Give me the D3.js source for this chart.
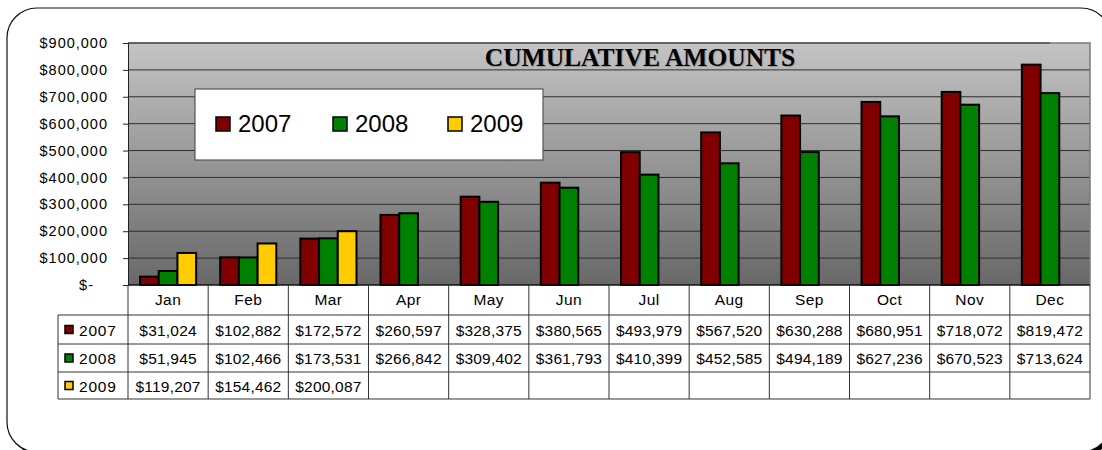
<!DOCTYPE html>
<html>
<head>
<meta charset="utf-8">
<script src="https://cdn.jsdelivr.net/npm/d3@7"></script>
<style>
  body { margin: 0; background: #fff; }
  svg { display: block; }
</style>
</head>
<body>
<div id="chart"></div>
<script>
// chart values
const months = ["Jan", "Feb", "Mar", "Apr", "May", "Jun", "Jul", "Aug", "Sep", "Oct", "Nov", "Dec"];
const series = ["2007", "2008", "2009"];
const v2007 = [31024, 102882, 172572, 260597, 328375, 380565, 493979, 567520, 630288, 680951, 718072, 819472];
const v2008 = [51945, 102466, 173531, 266842, 309402, 361793, 410399, 452585, 494189, 627236, 670523, 713624];
const v2009 = [119207, 154462, 200087];
const yTicks = [0, 100000, 200000, 300000, 400000, 500000, 600000, 700000, 800000, 900000];
const colors = {"2007": "#800000", "2008": "#008000", "2009": "#ffcc00"};
const title = "CUMULATIVE AMOUNTS";

const values = {"2007": v2007, "2008": v2008, "2009": v2009};

const width = 1102, height = 450;
const plot = {left: 128, right: 1090, top: 43, bottom: 285};
const rows = [315, 344, 372, 399]; // table row lines below the category row
const tableLeft = 58;

const svg = d3.select("#chart").append("svg")
  .attr("width", width)
  .attr("height", height);

// outer rounded frame with a dark shadow on the lower right
svg.append("rect")
  .attr("x", 10).attr("y", 11)
  .attr("width", 1104).attr("height", 444)
  .attr("rx", 30).attr("ry", 30)
  .attr("fill", "#000");
svg.append("rect")
  .attr("x", 7).attr("y", 8)
  .attr("width", 1104).attr("height", 444)
  .attr("rx", 30).attr("ry", 30)
  .attr("fill", "#fff")
  .attr("stroke", "#111")
  .attr("stroke-width", 1.2);

// gradient for the plot area
const defs = svg.append("defs");
const grad = defs.append("linearGradient")
  .attr("id", "plotGrad")
  .attr("x1", 0).attr("y1", 0).attr("x2", 0).attr("y2", 1);
grad.append("stop").attr("offset", "0%").attr("stop-color", "#c4c4c4");
grad.append("stop").attr("offset", "100%").attr("stop-color", "#686868");

// scales
const x = d3.scaleBand()
  .domain(months)
  .range([plot.left, plot.right]);

const x1 = d3.scaleBand()
  .domain(series)
  .range([x.bandwidth() * 0.15, x.bandwidth() * 0.85]);

const y = d3.scaleLinear()
  .domain([0, 900000])
  .range([plot.bottom, plot.top]);

// plot background
svg.append("rect")
  .attr("x", plot.left).attr("y", plot.top)
  .attr("width", plot.right - plot.left)
  .attr("height", plot.bottom - plot.top)
  .attr("fill", "url(#plotGrad)");

// gridlines
svg.append("g")
  .selectAll("line")
  .data(yTicks.slice(1, -1))
  .enter()
  .append("line")
  .attr("x1", plot.left).attr("x2", plot.right)
  .attr("y1", d => y(d)).attr("y2", d => y(d))
  .attr("stroke", "#2e2e2e")
  .attr("stroke-width", 1);

// plot border (top / right)
svg.append("path")
  .attr("d", "M" + plot.left + "," + plot.top + "H" + plot.right + "V" + plot.bottom)
  .attr("fill", "none")
  .attr("stroke", "#7a7a7a")
  .attr("stroke-width", 1.5);
svg.append("line")
  .attr("x1", plot.left).attr("x2", plot.right - 40)
  .attr("y1", plot.top).attr("y2", plot.top)
  .attr("stroke", "#333").attr("stroke-width", 1);

// title with a soft shadow
svg.append("text")
  .attr("x", 641).attr("y", 67)
  .attr("text-anchor", "middle")
  .attr("font-family", "'Liberation Serif', 'Times New Roman', serif")
  .attr("font-weight", "bold")
  .attr("font-size", 25.5)
  .attr("fill", "#999")
  .text(title);
svg.append("text")
  .attr("x", 640).attr("y", 66)
  .attr("text-anchor", "middle")
  .attr("font-family", "'Liberation Serif', 'Times New Roman', serif")
  .attr("font-weight", "bold")
  .attr("font-size", 25.5)
  .attr("fill", "#000")
  .text(title);

// bars
const groups = svg.append("g")
  .selectAll("g")
  .data(series)
  .enter()
  .append("g")
  .attr("fill", d => colors[d]);

groups.selectAll("rect")
  .data(s => values[s].map((v, i) => ({s: s, m: months[i], v: v})))
  .enter()
  .append("rect")
  .attr("x", d => x(d.m) + x1(d.s))
  .attr("y", d => y(d.v))
  .attr("width", x1.bandwidth())
  .attr("height", d => y(0) - y(d.v))
  .attr("stroke", "#000")
  .attr("stroke-width", 2);

// y axis
const yAxis = svg.append("g")
  .attr("transform", "translate(" + plot.left + ",0)")
  .call(d3.axisLeft(y)
    .tickValues(yTicks)
    .tickSize(5)
    .tickPadding(15)
    .tickFormat(d => d === 0 ? "$-" : "$" + d3.format(",")(d)));
yAxis.select(".domain").attr("stroke", "#222");
yAxis.selectAll(".tick line").attr("stroke", "#222");
yAxis.selectAll("text")
  .attr("font-family", "'Liberation Sans', Arial, sans-serif")
  .attr("font-size", 14.5)
  .attr("letter-spacing", 1)
  .attr("fill", "#000")
  .attr("dx", d => d === 0 ? -14 : 0);

// x axis line (base of bars)
svg.append("line")
  .attr("x1", plot.left).attr("x2", plot.right)
  .attr("y1", plot.bottom).attr("y2", plot.bottom)
  .attr("stroke", "#111").attr("stroke-width", 1.5);

// data table
const table = svg.append("g")
  .attr("stroke", "#333")
  .attr("stroke-width", 1);

// vertical lines
table.selectAll("line.v")
  .data(months.map(m => x(m)).concat([plot.right]))
  .enter()
  .append("line")
  .attr("class", "v")
  .attr("x1", d => d).attr("x2", d => d)
  .attr("y1", plot.bottom).attr("y2", rows[rows.length - 1]);
table.append("line")
  .attr("x1", tableLeft).attr("x2", tableLeft)
  .attr("y1", rows[0]).attr("y2", rows[rows.length - 1]);

// horizontal lines
table.selectAll("line.h")
  .data(rows)
  .enter()
  .append("line")
  .attr("class", "h")
  .attr("x1", tableLeft).attr("x2", plot.right)
  .attr("y1", d => d).attr("y2", d => d);

const cellFont = "'Liberation Sans', Arial, sans-serif";

// category labels
svg.append("g")
  .selectAll("text")
  .data(months)
  .enter()
  .append("text")
  .attr("x", d => x(d) + x.bandwidth() / 2)
  .attr("y", 305)
  .attr("text-anchor", "middle")
  .attr("font-family", cellFont)
  .attr("font-size", 15.5)
  .attr("letter-spacing", 0.4)
  .text(d => d);

// series rows
series.forEach(function(s, r) {
  const top = rows[r], bottom = rows[r + 1];
  const mid = (top + bottom) / 2;

  svg.append("rect")
    .attr("x", 65).attr("y", mid - 4)
    .attr("width", 8).attr("height", 8)
    .attr("fill", colors[s])
    .attr("stroke", "#000")
    .attr("stroke-width", 1.5);

  svg.append("text")
    .attr("x", 79).attr("y", mid + 6)
    .attr("font-family", cellFont)
    .attr("font-size", 15.5)
    .attr("letter-spacing", 0.8)
    .text(s);

  svg.append("g")
    .selectAll("text")
    .data(values[s])
    .enter()
    .append("text")
    .attr("x", (d, i) => x(months[i]) + x.bandwidth() / 2)
    .attr("y", mid + 6)
    .attr("text-anchor", "middle")
    .attr("font-family", cellFont)
    .attr("font-size", 15.5)
    .attr("letter-spacing", 0.2)
    .text(d => "$" + d3.format(",")(d));
});

// legend
const legend = svg.append("g");
legend.append("rect")
  .attr("x", 195).attr("y", 89)
  .attr("width", 348).attr("height", 71)
  .attr("fill", "#fff")
  .attr("stroke", "#555")
  .attr("stroke-width", 1.2);

const legendX = [216, 333, 448];
series.forEach(function(s, i) {
  legend.append("rect")
    .attr("x", legendX[i]).attr("y", 117)
    .attr("width", 14).attr("height", 14)
    .attr("fill", colors[s])
    .attr("stroke", "#000")
    .attr("stroke-width", 1.5);
  legend.append("text")
    .attr("x", legendX[i] + 22).attr("y", 132)
    .attr("font-family", cellFont)
    .attr("font-size", 24)
    .text(s);
});
</script>
</body>
</html>
